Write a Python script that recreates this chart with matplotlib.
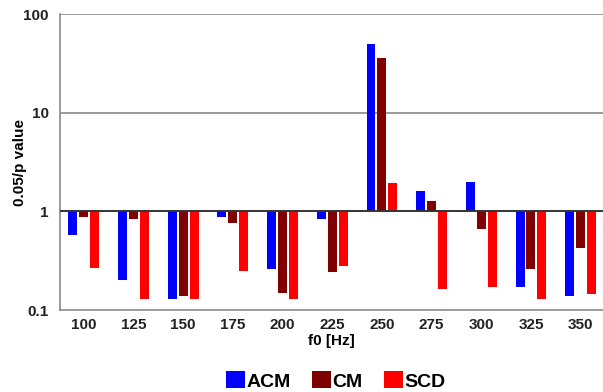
import numpy as np
import matplotlib
matplotlib.use("Agg")
import matplotlib.pyplot as plt
from matplotlib.patches import Patch

# ==================================================
# Data
# ==================================================
f0_labels = ["100", "125", "150", "175", "200", "225", "250", "275", "300", "325", "350"]
acm = [0.58, 0.20, 0.13, 0.87, 0.26, 0.83, 50.0, 1.60, 2.00, 0.17, 0.14]
cm = [0.87, 0.83, 0.14, 0.76, 0.15, 0.245, 36.0, 1.29, 0.67, 0.26, 0.43]
scd = [0.27, 0.128, 0.13, 0.25, 0.128, 0.28, 1.93, 0.165, 0.17, 0.128, 0.145]
series_names = ["ACM", "CM", "SCD"]
series_colors = ["#0000ff", "#7f0000", "#ff0000"]

plt.rcParams["font.family"] = ["Liberation Sans", "DejaVu Sans"]

fig = plt.figure(figsize=(6.03, 3.92), dpi=100)
ax = fig.add_axes([0.0995, 0.209, 0.9005, 0.755])

x = np.arange(len(f0_labels))
width = 0.18
offsets = [-0.22, 0.0, 0.22]

# bars hang from the 1-line (log scale)
for vals, off, col in zip([acm, cm, scd], offsets, series_colors):
    v = np.array(vals)
    ax.bar(x + off, v - 1, bottom=1, width=width, color=col, linewidth=0, zorder=3)

ax.set_yscale("log")
ax.set_ylim(0.1, 100)
ax.set_xlim(-0.48, 10.45)

ax.set_yticks([0.1, 1, 10, 100])
ax.set_yticklabels(["0.1", "1", "10", "100"], fontsize=11, fontweight="bold")
ax.minorticks_off()
ax.set_xticks(x)
ax.set_xticklabels(f0_labels, fontsize=11, fontweight="bold")
ax.tick_params(axis="y", length=0, pad=8, colors="#222222")
ax.tick_params(axis="x", length=0, pad=6, colors="#222222")

# horizontal grid at 10 and 100, dark baseline at 1
for yv in [10, 100]:
    ax.axhline(yv, color="#8a8a8a", linewidth=1.2, zorder=1)
ax.axhline(1, color="#333333", linewidth=1.4, zorder=4)

for side in ["top", "right"]:
    ax.spines[side].set_visible(False)
ax.spines["left"].set_color("#8a8a8a")
ax.spines["bottom"].set_color("#8a8a8a")
ax.spines["left"].set_linewidth(1.2)
ax.spines["bottom"].set_linewidth(1.2)

ax.set_xlabel("f0 [Hz]", fontsize=11, fontweight="bold", labelpad=1)
ax.set_ylabel("0.05/p value", fontsize=11, fontweight="bold")
ax.yaxis.set_label_coords(-0.06, 0.5)

handles = [Patch(facecolor=c, edgecolor="none") for c in series_colors]
fig.legend(handles, series_names, loc="center", bbox_to_anchor=(0.557, 0.028),
           ncol=3, frameon=False, prop={"size": 14, "weight": "bold"},
           handlelength=0.95, handleheight=0.95, handletextpad=0.1, columnspacing=1.1,
           borderpad=0)

fig.savefig("out.png", dpi=100)
